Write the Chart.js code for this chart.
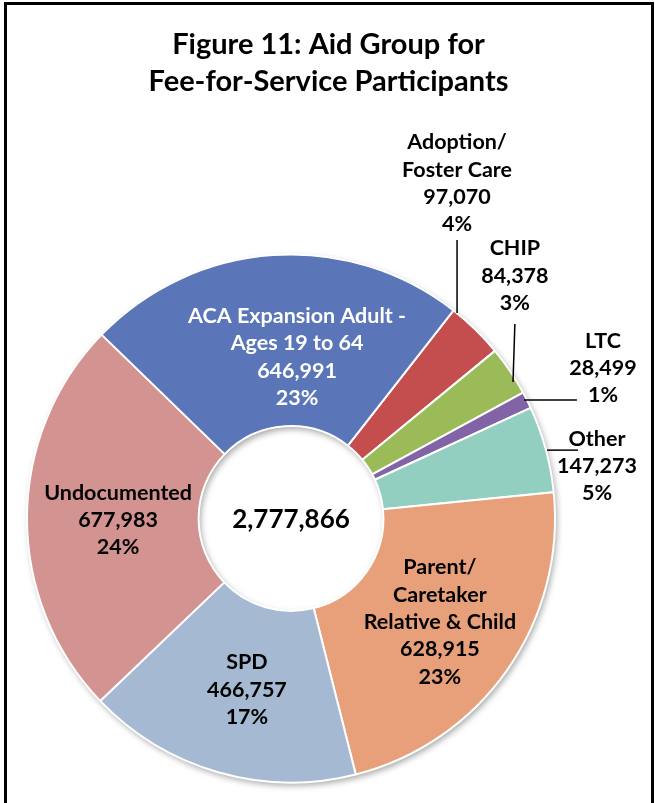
<!DOCTYPE html>
<html>
<head>
<meta charset="utf-8">
<script src="https://cdn.jsdelivr.net/npm/chart.js@4.4.1/dist/chart.umd.min.js"></script>
<style>
  body { margin: 0; background: #fff; }
  #wrap { position: relative; width: 655px; height: 803px; overflow: hidden; }
  #frame { position: absolute; left: 4px; top: 2px; width: 644px; height: 830px; border: 3px solid #000; pointer-events: none; }
  canvas { position: absolute; left: 0; top: 0; }
</style>
</head>
<body>
<div id="wrap">
  <canvas id="aidChart" width="655" height="803"></canvas>
  <div id="frame"></div>
</div>
<script>
// data
const titleLines = ["Figure 11: Aid Group for", "Fee-for-Service Participants"];
const groups = [
  ["Adoption/", "Foster Care"],
  ["CHIP"],
  ["LTC"],
  ["Other"],
  ["Parent/", "Caretaker", "Relative & Child"],
  ["SPD"],
  ["Undocumented"],
  ["ACA Expansion Adult -", "Ages 19 to 64"]
];
const participants = [97070, 84378, 28499, 147273, 628915, 466757, 677983, 646991];
const percentLabels = ["4%", "3%", "1%", "5%", "23%", "17%", "24%", "23%"];

// styles
const sliceColors = ["#C44D4D", "#9BBB59", "#8263A5", "#93CFC0", "#E8A07A", "#A5BAD2", "#D29391", "#5A76B8"];
const labelColors = ["#000", "#000", "#000", "#000", "#000", "#000", "#000", "#fff"];
// label block centres, relative to the pie centre in units of outer radius
const labelAnchors = [
  [0.629, -1.269], [0.848, -0.920], [1.182, -0.570], [1.159, -0.199],
  [0.564, 0.392], [-0.167, 0.648], [-0.655, 0.006], [0.023, -0.612]
];
const leaderLines = [
  [[0.629, -1.055], [0.629, -0.778]],
  [[0.848, -0.737], [0.841, -0.517]],
  [[0.883, -0.449], [1.083, -0.449]],
  [[0.970, -0.259], [1.087, -0.259]]
];

const FONT = "Lato, 'Open Sans', sans-serif";
const total = participants.reduce((a, b) => a + b, 0);

const aidLabels = {
  id: "aidLabels",
  beforeDatasetsDraw(chart) {
    // soft shadow under the ring
    const arc = chart.getDatasetMeta(0).data[0];
    const ctx = chart.ctx;
    ctx.save();
    ctx.shadowColor = "rgba(0,0,0,0.35)";
    ctx.shadowBlur = 6;
    ctx.shadowOffsetX = 2;
    ctx.shadowOffsetY = 3;
    ctx.fillStyle = "#fff";
    ctx.beginPath();
    ctx.arc(arc.x, arc.y, arc.outerRadius, 0, Math.PI * 2);
    ctx.arc(arc.x, arc.y, arc.innerRadius, 0, Math.PI * 2, true);
    ctx.fill();
    ctx.restore();
  },
  afterDraw(chart) {
    const ctx = chart.ctx;
    const meta = chart.getDatasetMeta(0);
    const cx = meta.data[0].x, cy = meta.data[0].y, R = meta.data[0].outerRadius;
    ctx.save();
    ctx.textAlign = "center";
    ctx.textBaseline = "middle";

    // title
    ctx.fillStyle = "#000";
    ctx.font = "bold 29px " + FONT;
    titleLines.forEach((t, i) => ctx.fillText(t, chart.width / 2 + 1, 45 + i * 37));

    // leader lines
    ctx.strokeStyle = "#000";
    ctx.lineWidth = 1.5;
    leaderLines.forEach(seg => {
      ctx.beginPath();
      ctx.moveTo(cx + seg[0][0] * R, cy + seg[0][1] * R);
      ctx.lineTo(cx + seg[1][0] * R, cy + seg[1][1] * R);
      ctx.stroke();
    });

    // slice labels
    ctx.font = "bold 21.5px " + FONT;
    const lh = 27.3;
    groups.forEach((name, i) => {
      const lines = name.concat([participants[i].toLocaleString("en-US"), percentLabels[i]]);
      const x = cx + labelAnchors[i][0] * R;
      const y0 = cy + labelAnchors[i][1] * R - (lines.length - 1) * lh / 2;
      ctx.fillStyle = labelColors[i];
      lines.forEach((t, j) => ctx.fillText(t, x, y0 + j * lh));
    });

    // total in the hole
    ctx.fillStyle = "#000";
    ctx.font = "bold 26px " + FONT;
    ctx.fillText(total.toLocaleString("en-US"), cx, cy + 1);
    ctx.restore();
  }
};

new Chart(document.getElementById("aidChart"), {
  type: "doughnut",
  data: {
    labels: groups.map(g => g.join(" ")),
    datasets: [{
      data: participants,
      backgroundColor: sliceColors,
      borderColor: "#fff",
      borderWidth: 2
    }]
  },
  options: {
    responsive: false,
    animation: false,
    rotation: 38,
    cutout: "35%",
    layout: { padding: { left: 26, right: 99, top: 253.5, bottom: 19.5 } },
    plugins: {
      legend: { display: false },
      title: { display: false },
      tooltip: { enabled: false }
    }
  },
  plugins: [aidLabels]
});
</script>
</body>
</html>
